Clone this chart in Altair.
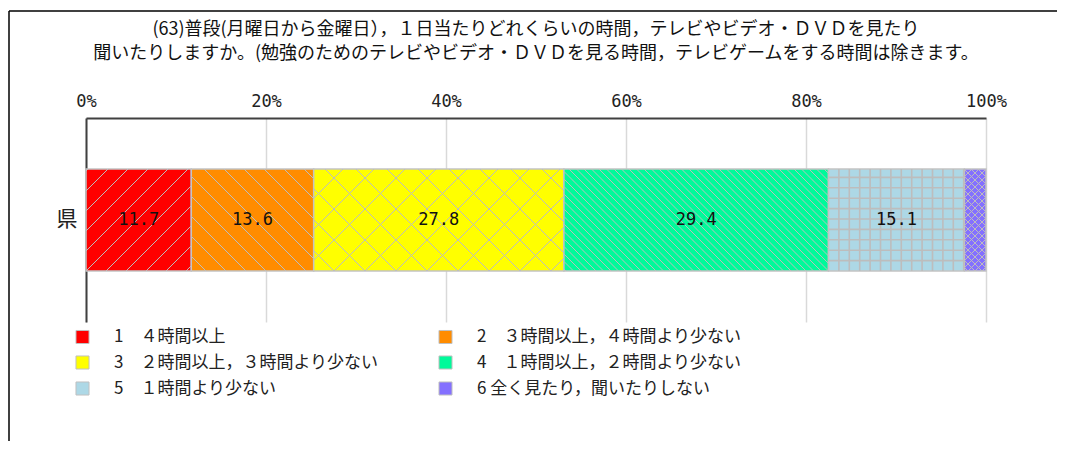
import altair as alt
import pandas as pd
import numpy as np

# ---------------- data ----------------
title_lines = [
    "(63)普段(月曜日から金曜日），１日当たりどれくらいの時間，テレビやビデオ・ＤＶＤを見たり",
    "聞いたりしますか。(勉強のためのテレビやビデオ・ＤＶＤを見る時間，テレビゲームをする時間は除きます。",
]
region = ["県"]
categories = [
    "1　４時間以上",
    "2　３時間以上，４時間より少ない",
    "3　２時間以上，３時間より少ない",
    "4　１時間以上，２時間より少ない",
    "5　１時間より少ない",
    "6 全く見たり，聞いたりしない",
]
values = [11.7, 13.6, 27.8, 29.4, 15.1, 2.4]
colors = ["#ff0000", "#ff8c00", "#ffff00", "#00fa9a", "#add8e6", "#8470ff"]
tick_values = [0, 20, 40, 60, 80, 100]

# hatch style for each category: (kind, spacing in px)
hatch_styles = [("fwd", 20), ("back", 20), ("cross", 31), ("back", 7.5), ("grid", 10.4), ("cross", 7)]

# ---------------- layout ----------------
W, H = 900, 204
FONT_JP = "Noto Sans CJK JP"
FONT_NUM = "DejaVu Sans Mono"

# ---------------- table ----------------
ends = np.cumsum(values)
starts = ends - np.array(values)
df = pd.DataFrame({
    "region": region[0],
    "category": categories,
    "value": values,
    "start": starts,
    "end": ends,
    "mid": starts + np.array(values) / 2,
    "order": range(len(values)),
})

# ---------------- hatch pattern (derived from the bar extents) ----------------
def clip_line(px, py, dx, dy, x0, x1, y0, y1):
    t0, t1 = -1e9, 1e9
    for p, q in ((-dx, px - x0), (dx, x1 - px), (-dy, py - y0), (dy, y1 - py)):
        if p == 0:
            if q < 0:
                return None
        else:
            t = q / p
            if p < 0:
                t0 = max(t0, t)
            else:
                t1 = min(t1, t)
    if t1 - t0 <= 0.5:
        return None
    return (px + t0 * dx, py + t0 * dy, px + t1 * dx, py + t1 * dy)

px_per_x = W / 100.0
band_lo, band_hi = 0.25 * H, 0.75 * H
segs = []
for s, e, (kind, sp) in zip(starts, ends, hatch_styles):
    x0, x1 = s * px_per_x, e * px_per_x
    y0, y1 = band_lo, band_hi
    hh = y1 - y0
    lines = []
    if kind in ("fwd", "cross"):
        c = np.floor((x0 - hh) / sp) * sp
        while c <= x1:
            lines.append((c, y0, 1, 1))
            c += sp
    if kind in ("back", "cross"):
        c = np.floor(x0 / sp) * sp
        while c <= x1 + hh:
            lines.append((c, y0, -1, 1))
            c += sp
    if kind == "grid":
        c = x0 + sp
        while c < x1:
            lines.append((c, y0, 0, 1))
            c += sp
        c = y0 + sp
        while c < y1:
            lines.append((x0, c, 1, 0))
            c += sp
    for (px, py, dx, dy) in lines:
        r = clip_line(px, py, dx, dy, x0, x1, y0, y1)
        if r:
            segs.append({"hx": r[0] / px_per_x, "hx2": r[2] / px_per_x,
                         "hy": r[1] / H, "hy2": r[3] / H,
                         "w": 1.6 if kind == "grid" else 1.0})
hatch_df = pd.DataFrame(segs)

# ---------------- chart ----------------
x_scale = alt.Scale(domain=[0, 100], nice=False, zero=True)
x_axis = alt.Axis(orient="top", values=tick_values, labelExpr="datum.value + '%'",
                  title=None, tickSize=0, labelPadding=8, labelFont=FONT_NUM,
                  labelFontSize=17, labelColor="#222222", domainColor="#404040",
                  domainWidth=2, grid=True, gridColor="#d9d9d9", gridWidth=1.5,
                  labelFlush=False, labelBound=False, labelOverlap=False)
y_scale = alt.Scale(paddingInner=0, paddingOuter=0.5)

bars = alt.Chart(df).mark_bar(stroke="#c4c4c4", strokeWidth=1.5).encode(
    x=alt.X("start:Q", scale=x_scale, axis=x_axis),
    x2="end:Q",
    y=alt.Y("region:N", scale=y_scale,
            axis=alt.Axis(title=None, ticks=False, labelFont=FONT_JP, labelFontSize=21,
                          labelColor="#222222", labelPadding=9, domainColor="#404040",
                          domainWidth=2, labelAngle=0)),
    color=alt.Color("category:N", scale=alt.Scale(domain=categories, range=colors),
                    legend=alt.Legend(title=None, orient="none", legendX=-12, legendY=210,
                                      direction="horizontal", columns=2,
                                      columnPadding=57, rowPadding=7,
                                      symbolType="square", symbolSize=170,
                                      symbolStrokeColor="#c0c0c0", symbolStrokeWidth=1,
                                      labelFont=FONT_JP, labelFontSize=17, labelOffset=23,
                                      labelColor="#222222", labelLimit=400)),
)

hatch = alt.Chart(hatch_df).mark_rule(color="#bdbdbd").encode(
    x=alt.X("hx:Q", scale=x_scale, axis=x_axis),
    x2="hx2:Q",
    y=alt.Y("hy:Q", scale=alt.Scale(domain=[0, 1], nice=False), axis=None),
    y2="hy2:Q",
    strokeWidth=alt.StrokeWidth("w:Q", scale=None),
)

labels = alt.Chart(df).transform_filter("datum.value >= 5").mark_text(
    font=FONT_NUM, fontSize=17, color="#111111"
).encode(
    x=alt.X("mid:Q", scale=x_scale, axis=x_axis),
    y=alt.Y("region:N", scale=y_scale, axis=None),
    text=alt.Text("value:Q", format=".1f"),
)

frame_data = alt.Data(values=[{"k": 0}])
frame_top = alt.Chart(frame_data).mark_rule(color="#000000", strokeWidth=1.5).encode(
    x=alt.value(-77), x2=alt.value(990), y=alt.value(-107))
frame_left = alt.Chart(frame_data).mark_rule(color="#000000", strokeWidth=1.5).encode(
    x=alt.value(-77), y=alt.value(-107), y2=alt.value(335))

chart = alt.layer(bars, hatch, labels, frame_top, frame_left).resolve_scale(
    y="independent"
).properties(
    width=W, height=H,
    autosize=alt.AutoSizeParams(type="none"),
    padding={"left": 78, "top": 110, "right": 71, "bottom": 119},
    title=alt.Title(title_lines, anchor="middle", frame="group", font=FONT_JP,
                    fontSize=18, fontWeight="normal", color="#111111",
                    lineHeight=24, offset=-53),
).configure_view(stroke=None)

chart.save("out.html", embed_options={"renderer": "svg", "actions": False})
